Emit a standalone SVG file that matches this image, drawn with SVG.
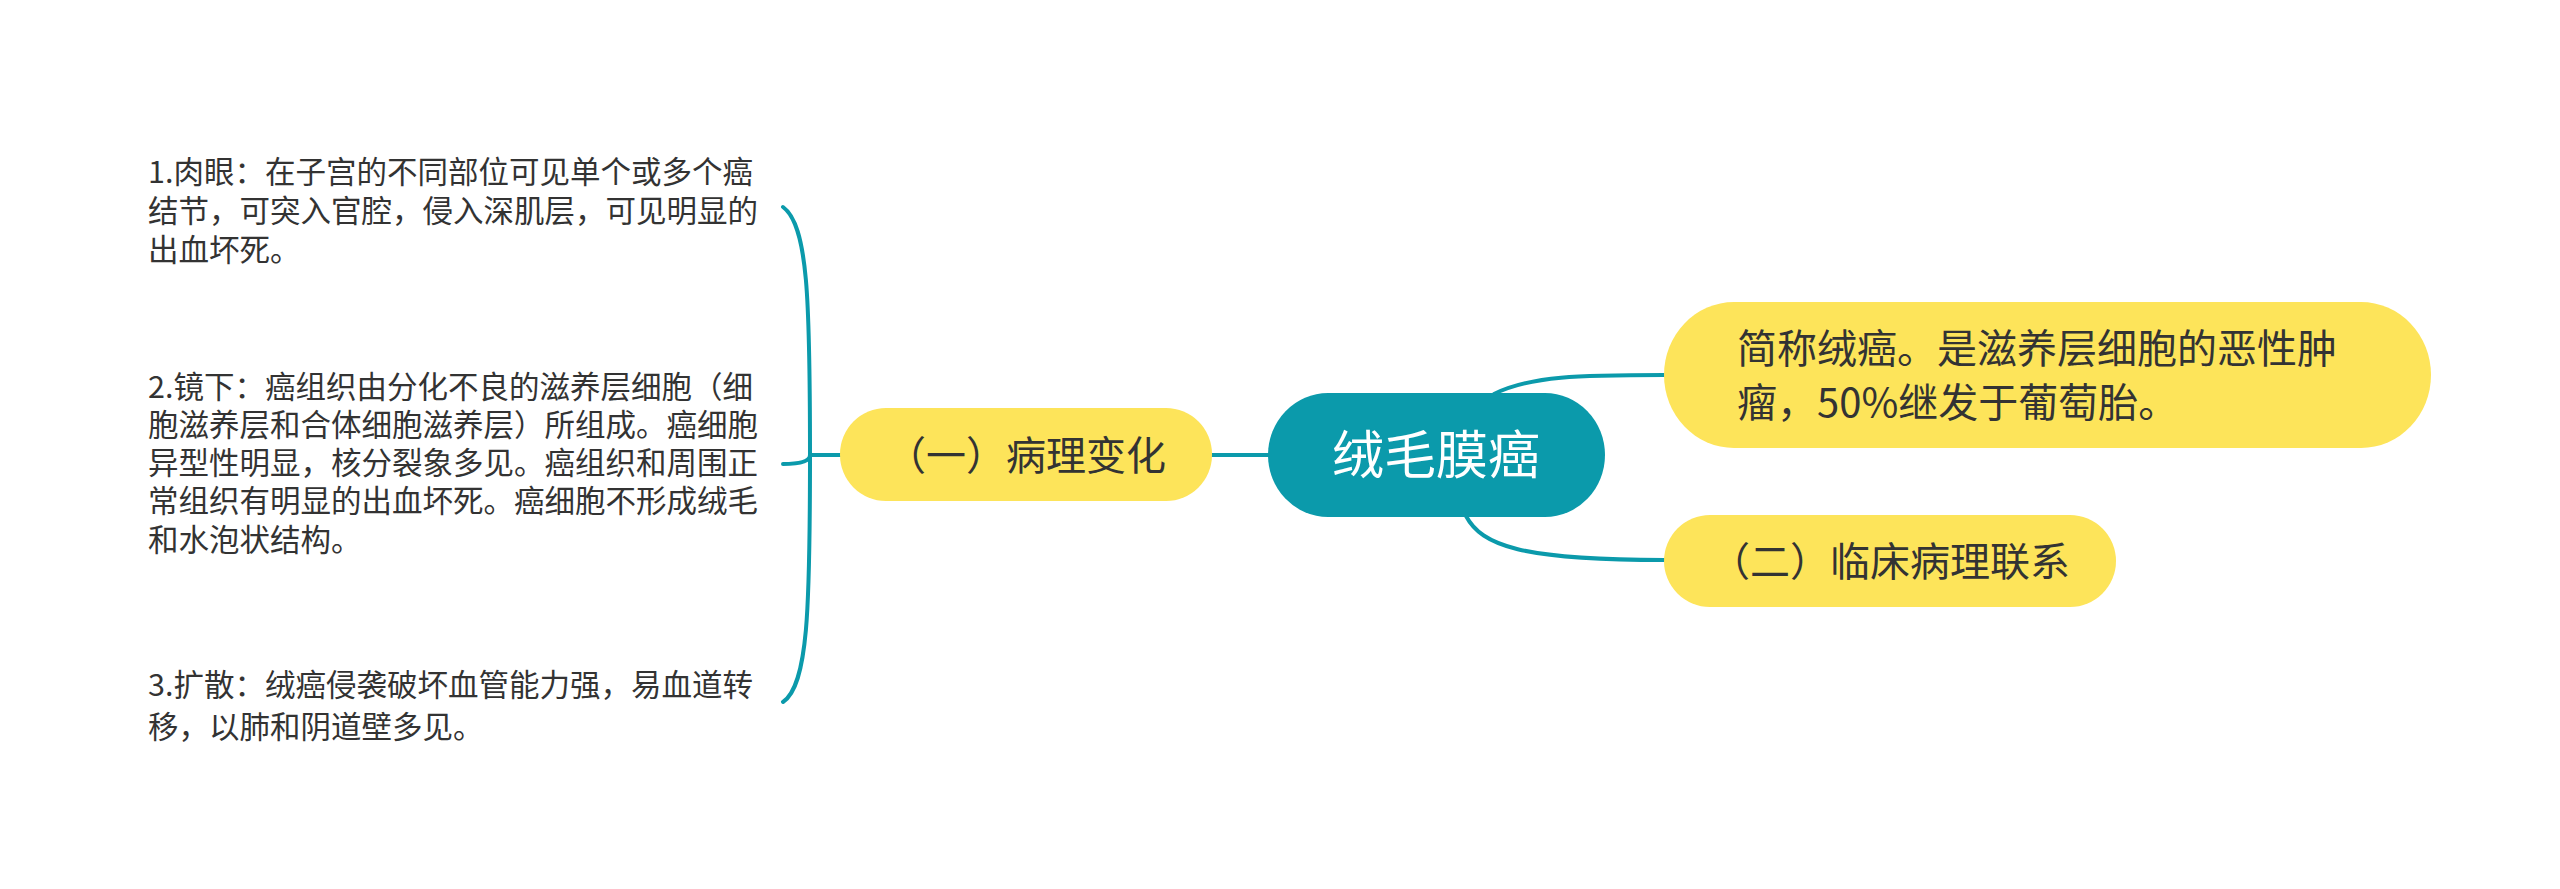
<svg xmlns="http://www.w3.org/2000/svg" width="2560" height="889" viewBox="0 0 2560 889">
<style>
.bg{fill:#ffffff}
.conn{fill:none;stroke:#0b9aab;stroke-width:4;stroke-linecap:round}
.yel{fill:#fde45a}
.teal{fill:#0b9aab}
.t{font-family:"Noto Sans CJK SC","Noto Sans CJK TC",sans-serif;fill:#333333}
.n{font-size:40px}
.s{font-size:30.5px}
.c{font-size:52px;fill:#ffffff}
</style>
<rect class="bg" x="0" y="0" width="2560" height="889"/>
<g id="connectors">
<path class="conn" d="M1212 455 L1270 455"/>
<path class="conn" d="M1494 394 C1530 376 1580 375 1664 375"/>
<path class="conn" d="M1466 516 C1482 546 1522 560 1664 560"/>
<path class="conn" d="M841 455 L810 455"/>
<path class="conn" d="M810 455 C810 300 808 225 783 207"/>
<path class="conn" d="M810 455 Q810 464 783 464"/>
<path class="conn" d="M810 455 C810 610 808 685 783 702"/>
</g>
<g id="node-root">
<rect class="teal" x="1268" y="393" width="337" height="124" rx="60" ry="62"/>
<text class="t c" x="1436" y="474" text-anchor="middle">绒毛膜癌</text>
</g>
<g id="node-summary">
<rect class="yel" x="1664" y="302" width="767" height="146" rx="70" ry="73"/>
<text class="t n" x="1737" y="363">简称绒癌。是滋养层细胞的恶性肿</text>
<text class="t n" x="1737" y="417">瘤，50%继发于葡萄胎。</text>
</g>
<g id="node-clinical">
<rect class="yel" x="1664" y="515" width="452" height="92" rx="46" ry="46"/>
<text class="t n" x="1890" y="576" text-anchor="middle">（二）临床病理联系</text>
</g>
<g id="node-pathology">
<rect class="yel" x="840" y="408" width="372" height="93" rx="46" ry="46"/>
<text class="t n" x="1026" y="470" text-anchor="middle">（一）病理变化</text>
</g>
<g id="leaf-1">
<text class="t s" x="148" y="183">1.肉眼：在子宫的不同部位可见单个或多个癌</text>
<text class="t s" x="148" y="222">结节，可突入官腔，侵入深肌层，可见明显的</text>
<text class="t s" x="148" y="261">出血坏死。</text>
</g>
<g id="leaf-2">
<text class="t s" x="148" y="398">2.镜下：癌组织由分化不良的滋养层细胞（细</text>
<text class="t s" x="148" y="436">胞滋养层和合体细胞滋养层）所组成。癌细胞</text>
<text class="t s" x="148" y="474">异型性明显，核分裂象多见。癌组织和周围正</text>
<text class="t s" x="148" y="512">常组织有明显的出血坏死。癌细胞不形成绒毛</text>
<text class="t s" x="148" y="551">和水泡状结构。</text>
</g>
<g id="leaf-3">
<text class="t s" x="148" y="696">3.扩散：绒癌侵袭破坏血管能力强，易血道转</text>
<text class="t s" x="148" y="738">移，以肺和阴道壁多见。</text>
</g>
</svg>
